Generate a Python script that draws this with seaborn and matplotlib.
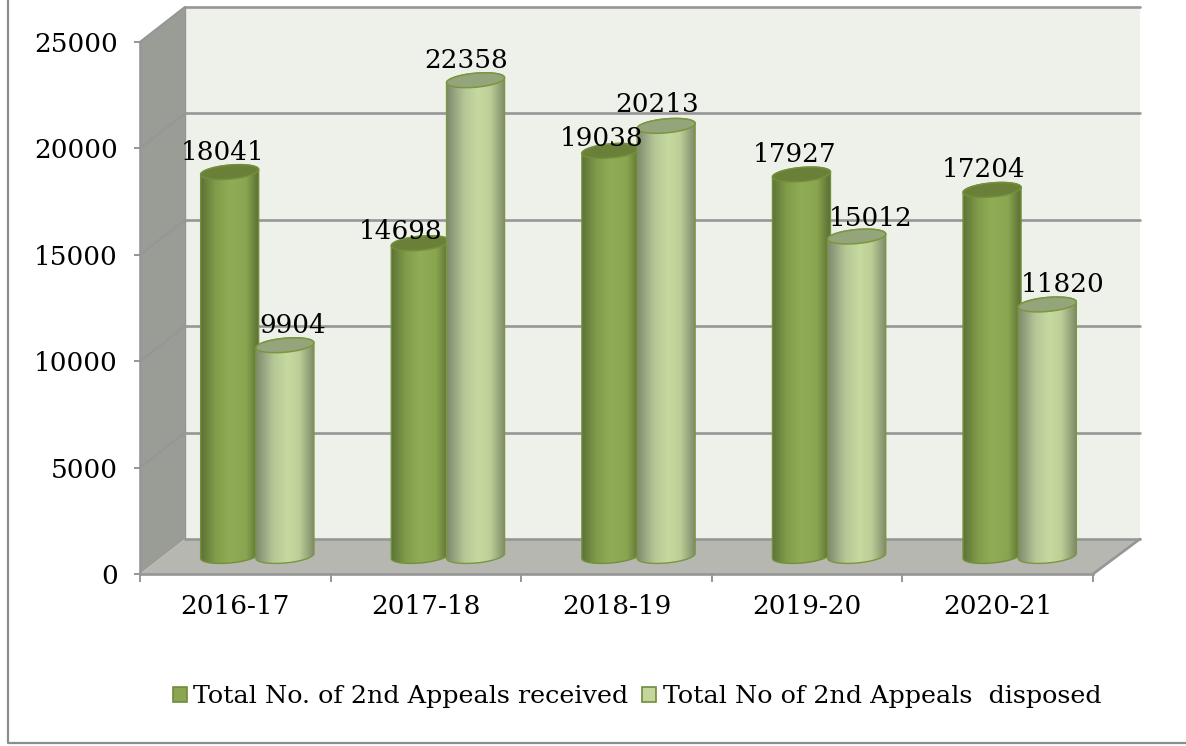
import numpy as np
import pandas as pd
import seaborn as sns
import matplotlib
matplotlib.use("Agg")
import matplotlib.pyplot as plt
from matplotlib.colors import LinearSegmentedColormap
from matplotlib.patches import Patch, PathPatch, Polygon
from matplotlib.path import Path

categories = ["2016-17", "2017-18", "2018-19", "2019-20", "2020-21"]
received = [18041, 14698, 19038, 17927, 17204]
disposed = [9904, 22358, 20213, 15012, 11820]
series_names = ["Total No. of 2nd Appeals received", "Total No of 2nd Appeals  disposed"]
y_ticks = [0, 5000, 10000, 15000, 20000, 25000]

# label offsets in pixels (dx, dy) relative to the bar's top centre
recv_off = [(-7, 20), (-20, 12), (-9, 12), (-7, 20), (-8, 20)]
disp_off = [(8, 20), (-9, 20), (-9, 21), (14, 18), (15, 20)]

W, H = 1186, 746
FONT = "DejaVu Serif"
FS = 18.9
sns.set_theme(style="white")
plt.rcParams["font.family"] = [FONT, "DejaVu Sans"]


def px_axes(fig, left, right, top, bottom):
    return fig.add_axes([left / W, 1 - bottom / H, (right - left) / W, (bottom - top) / H])


fig = plt.figure(figsize=(W / 100, H / 100), dpi=100, facecolor="white")

# ---- background walls, in pixel coordinates
bg = fig.add_axes([0, 0, 1, 1])
bg.set_xlim(0, W)
bg.set_ylim(H, 0)
bg.axis("off")
L, R, B, T = 140, 1093, 574, 42
DX, DY = 45, -35
GRID = "#969696"
bg.add_patch(Polygon([(L + DX, T + DY), (R + DX + 2, T + DY), (R + DX + 2, B + DY), (L + DX, B + DY)],
                     fc="#eef1ea", ec="none"))
bg.add_patch(Polygon([(L, T), (L + DX, T + DY), (L + DX, B + DY), (L, B)], fc="#9a9d96", ec="none"))
bg.add_patch(Polygon([(L, B), (L + DX, B + DY), (R + DX + 2, B + DY), (R, B)], fc="#b5b7b0", ec="none"))
scale = (B - T) / 25000
for v in y_ticks:
    y = B - v * scale
    if v > 0:
        bg.plot([L, L + DX], [y, y + DY], color=GRID, lw=1.6, solid_capstyle="round")
    bg.plot([L + DX, R + DX + 2], [y + DY, y + DY], color=GRID, lw=1.9)
bg.plot([L + DX, L + DX], [B + DY, T + DY], color=GRID, lw=1.0)
bg.plot([R, R + DX + 2], [B, B + DY], color=GRID, lw=1.9)
# outer chart frame
bg.plot([8, 8, W], [0, 743, 743], color="#8c8c8c", lw=1.6)

# ---- front axes: ticks and tick labels
ax = px_axes(fig, L, R, T, B)
ax.patch.set_alpha(0)
ax.set_xlim(-0.5, 4.5)
ax.set_ylim(0, 25000)
ax.set_yticks(y_ticks)
ax.set_xticks(range(5))
ax.set_xticklabels(categories)
ax.set_xticks(np.arange(-0.5, 5, 1), minor=True)
ax.tick_params(axis="x", which="major", bottom=False, pad=8.5, labelsize=FS, labelcolor="black")
ax.tick_params(axis="x", which="minor", bottom=True, length=5.5, width=1.4, color=GRID)
ax.tick_params(axis="y", left=True, length=4.5, width=1.4, color=GRID, pad=11.5, labelsize=FS, labelcolor="black")
for s in ["top", "right"]:
    ax.spines[s].set_visible(False)
for s in ["left", "bottom"]:
    ax.spines[s].set_color(GRID)
    ax.spines[s].set_linewidth(1.9)

# ---- bars axes, shifted half the depth into the box
bx_ymin = -1000
bar_L, bar_R = L + 22, R + 22
base = 556
px_per_val = (B - T) / 25000
bx = px_axes(fig, bar_L, bar_R, base - 25000 * px_per_val, base - bx_ymin * px_per_val)
bx.patch.set_alpha(0)
df = pd.DataFrame({
    "year": categories * 2,
    "value": received + disposed,
    "series": [series_names[0]] * 5 + [series_names[1]] * 5,
})
sns.barplot(data=df, x="year", y="value", hue="series", ax=bx, width=0.58, legend=False,
            palette=["#8aa64f", "#c3d69b"], saturation=1)
bx.set_xlim(-0.5, 4.5)
bx.set_ylim(bx_ymin, 25000)
bx.axis("off")

dark_cmap = LinearSegmentedColormap.from_list("d", [(0, "#5c7336"), (0.25, "#819c4a"),
                                                    (0.5, "#90ad56"), (0.78, "#8aa550"), (1, "#5a7032")])
light_cmap = LinearSegmentedColormap.from_list("l", [(0, "#7f8b70"), (0.3, "#b5c796"),
                                                     (0.55, "#c6da9f"), (0.75, "#bccf96"), (1, "#7f8c6b")])
styles = [
    dict(cmap=dark_cmap, top="#6a8038", edge="#748f3c", z=3),
    dict(cmap=light_cmap, top="#94a57b", edge="#7b963f", z=4),
]
offsets = [recv_off, disp_off]
bar_px = 58
slot_px = (R - L) / 5
bar_w = bar_px / slot_px
semi = 7 / px_per_val    # ellipse semi-minor in value units
tilt = 2.5 / px_per_val  # the right side of each ellipse sits higher than its left

for h, cont in enumerate(bx.containers):
    st = styles[h]
    for i, rect in enumerate(cont.patches):
        cx = rect.get_x() + rect.get_width() / 2
        val = rect.get_height()
        rect.set_visible(False)
        t = np.linspace(np.pi, 2 * np.pi, 40)
        # lower half at the foot (left to right)
        xs = cx + bar_w / 2 * np.cos(t)
        ys = semi * np.sin(t) + tilt * np.cos(t)
        # upper half at the top (right to left)
        t2 = np.linspace(0, np.pi, 40)
        xu = cx + bar_w / 2 * np.cos(t2)
        yu = val + semi * np.sin(t2) + tilt * np.cos(t2)
        body_v = list(zip(xs, ys)) + list(zip(xu, yu))
        body = Path(body_v + [body_v[0]], closed=True)
        bx.add_patch(PathPatch(body, fc="none", ec=st["edge"], lw=1.0, zorder=st["z"] + 0.2))
        im = bx.imshow(np.linspace(0, 1, 128)[None, :], cmap=st["cmap"], aspect="auto", vmin=0, vmax=1,
                       extent=[cx - bar_w / 2, cx + bar_w / 2, -2 * semi, val + 2 * semi], zorder=st["z"],
                       interpolation="bilinear")
        im.set_clip_path(PathPatch(body, transform=bx.transData, fc="none", ec="none"))
        t3 = np.linspace(0, 2 * np.pi, 80)
        top_v = np.column_stack([cx + bar_w / 2 * np.cos(t3), val + semi * np.sin(t3) + tilt * np.cos(t3)])
        bx.add_patch(Polygon(top_v, closed=True, fc=st["top"], ec=st["edge"], lw=1.1, zorder=st["z"] + 0.3))
        dx, dy = offsets[h][i]
        bx.annotate(f"{val:.0f}", (cx, val), xytext=(dx * 0.72, dy * 0.72), textcoords="offset points",
                    ha="center", va="center", fontsize=FS, color="black", zorder=10)
bx.set_xlim(-0.5, 4.5)
bx.set_ylim(bx_ymin, 25000)

# ---- legend
handles = [Patch(fc="#8aa651", ec="#6f8b3d", lw=1.2, label=series_names[0]),
           Patch(fc="#c3d69b", ec="#6f8b3d", lw=1.2, label=series_names[1])]
fig.legend(handles=handles, loc="center", bbox_to_anchor=(637 / W, 1 - 697 / H), ncol=2, frameon=False,
           fontsize=18.3, handlelength=0.55, handleheight=0.55, handletextpad=0.25, columnspacing=0.55,
           labelcolor="black", borderpad=0)

fig.savefig("out.png", dpi=100, facecolor="white")
